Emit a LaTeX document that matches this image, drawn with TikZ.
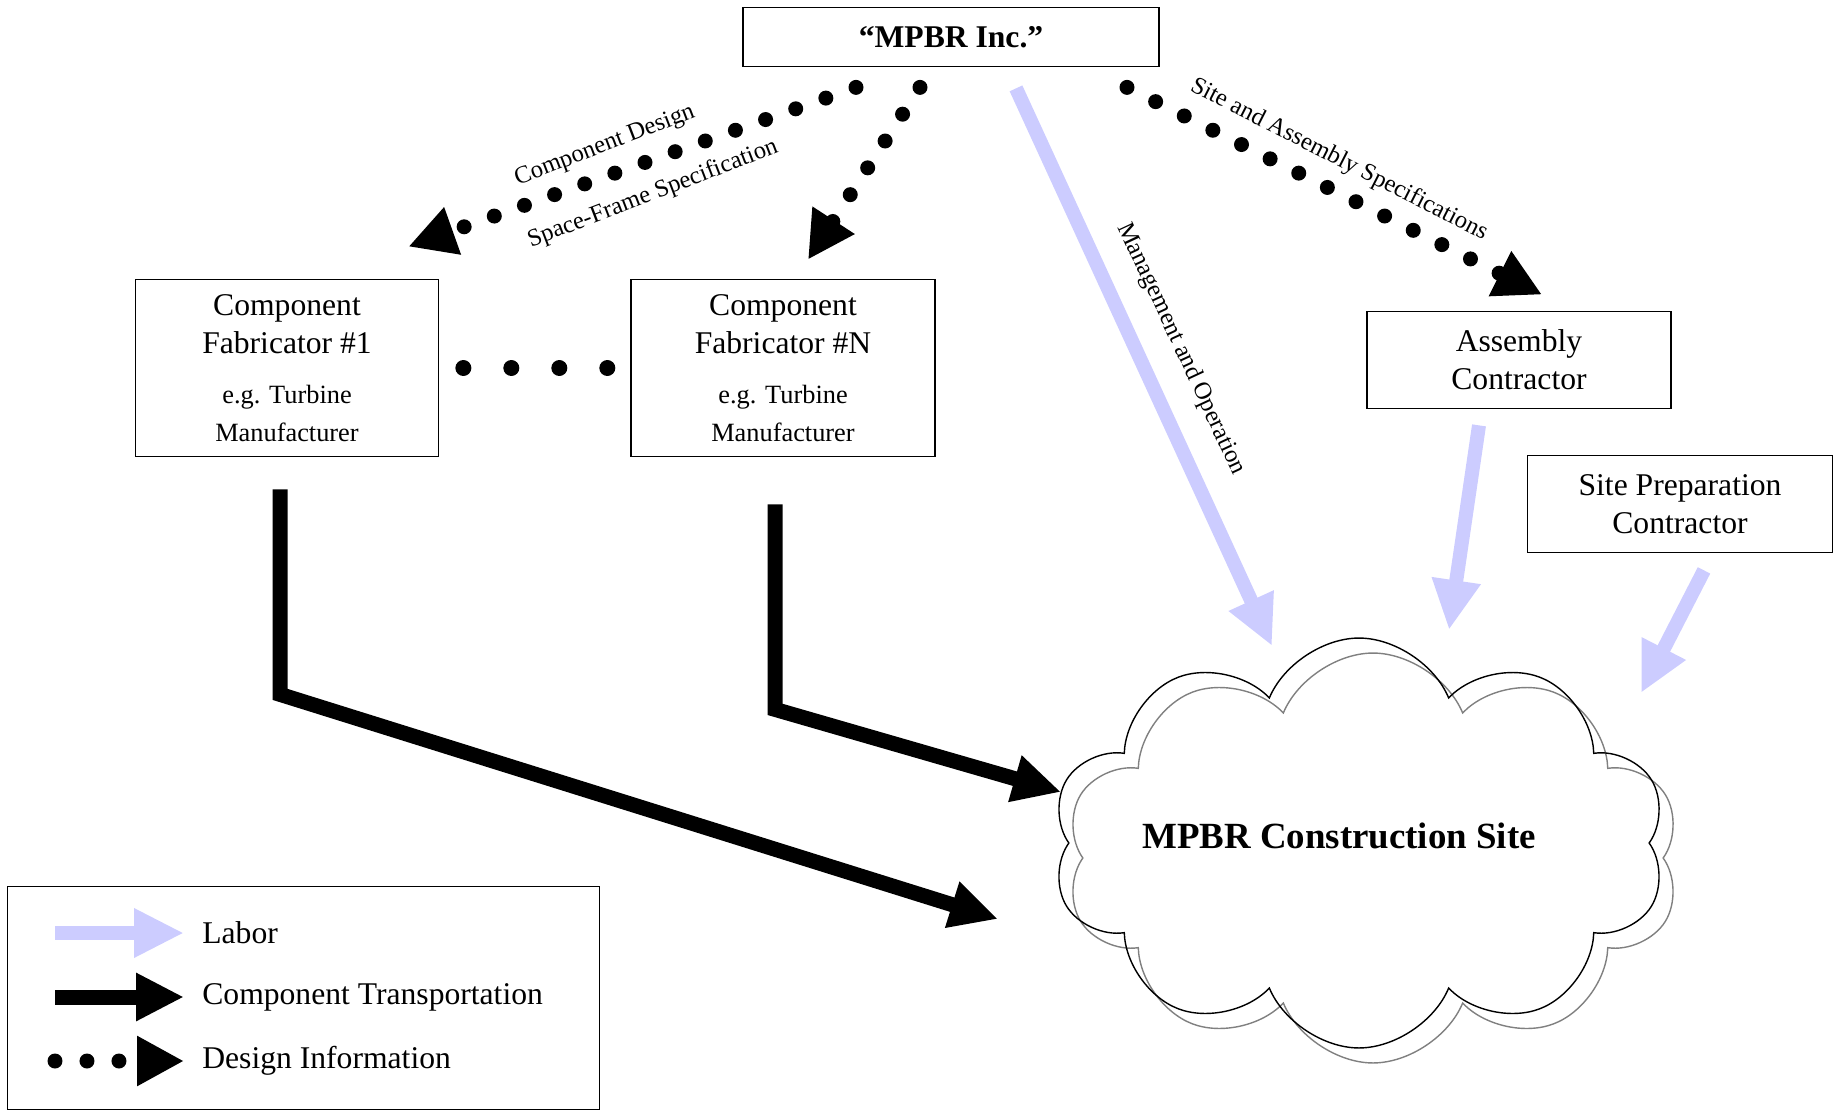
\documentclass[tikz,border=0pt]{standalone}
\usepackage{fontspec}
\setmainfont{Liberation Serif}
\usepackage{tikz}
\usetikzlibrary{arrows.meta, positioning, shapes.symbols, calc}

\definecolor{laborblue}{RGB}{204,204,255}
\newcommand{\subline}[1]{{\fontsize{15}{18}\selectfont #1}}

\begin{document}
\begin{tikzpicture}[
    x=0.02cm, y=-0.02cm,
    box/.style={draw, line width=1pt, align=center, inner sep=0pt,
                font=\fontsize{18}{21.5}\selectfont},
    puffy/.style={cloud, cloud puffs=10, cloud puff arc=135, aspect=1.5,
                  minimum width=12.3cm, minimum height=8.2cm, line width=0.8pt},
    labor/.style={-{Triangle[length=1cm, width=0.92cm]}, line width=0.28cm, draw=laborblue},
    transport/.style={-{Triangle[length=0.96cm, width=0.9cm]}, line width=0.3cm},
    info/.style={-{Triangle[length=0.94cm, width=0.94cm]}, line width=0.3cm,
                 line cap=round, dash pattern=on 0pt off 0.64cm},
    dotrow/.style={line width=0.32cm, line cap=round, dash pattern=on 0pt off 0.96cm},
    tag/.style={font=\fontsize{14}{16}\selectfont, inner sep=0pt},
    keytext/.style={anchor=west, inner sep=0pt, font=\fontsize{18}{21.5}\selectfont}
    ]
    \useasboundingbox (0,0) rectangle (1835,1111);

    % parties
    \node[box, minimum width=8.32cm, minimum height=1.18cm] (inc) at (951,37)
        {\textbf{``MPBR Inc.''}};
    \node[box, minimum width=6.06cm, minimum height=3.54cm] (fab1) at (287,368)
        {Component\\Fabricator \#1\\[7pt]\subline{e.g. Turbine}\\\subline{Manufacturer}};
    \node[box, minimum width=6.08cm, minimum height=3.54cm] (fabN) at (783,368)
        {Component\\Fabricator \#N\\[7pt]\subline{e.g. Turbine}\\\subline{Manufacturer}};
    \node[box, minimum width=6.08cm, minimum height=1.94cm] (asm) at (1519,360)
        {Assembly\\Contractor};
    \node[box, minimum width=6.1cm, minimum height=1.94cm] (prep) at (1680,504)
        {Site Preparation\\Contractor};

    % construction site with its shadow
    \node[puffy, draw=gray] (siteshadow) at (1373,858) {};
    \node[puffy, draw] (site) at (1359,843) {};
    \node[font=\bfseries\fontsize{21}{25}\selectfont] (sitetext) at (1339,836)
        {MPBR Construction Site};

    % design information
    \draw[info] ($(inc.south)+(-95,20)$) -- ($(fab1.north east)+(-31,-32)$);
    \draw[info] ($(inc.south)+(-31,20)$) -- ($(fabN.north)+(25,-19)$);
    \draw[info] ($(inc.south)+(176,20)$) -- ($(asm.north)+(23,-16)$);
    \draw[dotrow] ($(fab1.east)+(24,0)$) -- ($(fabN.west)+(-22,0)$);
    \node[tag, rotate=21] (cdesign) at (605,146) {Component Design};
    \node[tag, rotate=21] (sframe) at (653,194) {Space-Frame Specification};
    \node[tag, rotate=-27] (sitespec) at (1339,160) {Site and Assembly Specifications};

    % labor
    \draw[labor] ($(inc.south)+(65,21)$) -- ($(site.center)+(-87,-197)$);
    \draw[labor] ($(asm.south)+(-40,16)$) -- ($(site.center)+(90,-213)$);
    \draw[labor] ($(prep.south)+(24,17)$) -- ($(site.center)+(282,-150)$);
    \node[tag, rotate=-65] (mgmt) at (1181,349) {Management and Operation};

    % component transportation
    \draw[transport] ($(fab1.south)+(-7,32)$) -- ++(0,205) -- ($(site.center)+(-361,76)$);
    \draw[transport] ($(fabN.south)+(-8,47)$) -- ++(0,205) -- ($(site.center)+(-298,-51)$);

    % legend
    \node[draw, line width=0.8pt, anchor=north west, minimum width=11.84cm,
          minimum height=4.46cm] (legend) at (7,886) {};
    \node[keytext] (laborkey) at (202,933) {Labor};
    \node[keytext] (transkey) at (202,997) {Component Transportation};
    \node[keytext] (infokey) at (202,1061) {Design Information};
    \draw[labor] ($(laborkey.west)+(-147,0)$) -- ($(laborkey.west)+(-18,0)$);
    \draw[transport] ($(transkey.west)+(-147,0)$) -- ($(transkey.west)+(-18,0)$);
    \draw[info] ($(infokey.west)+(-147,0)$) -- ($(infokey.west)+(-18,0)$);
\end{tikzpicture}
\end{document}
